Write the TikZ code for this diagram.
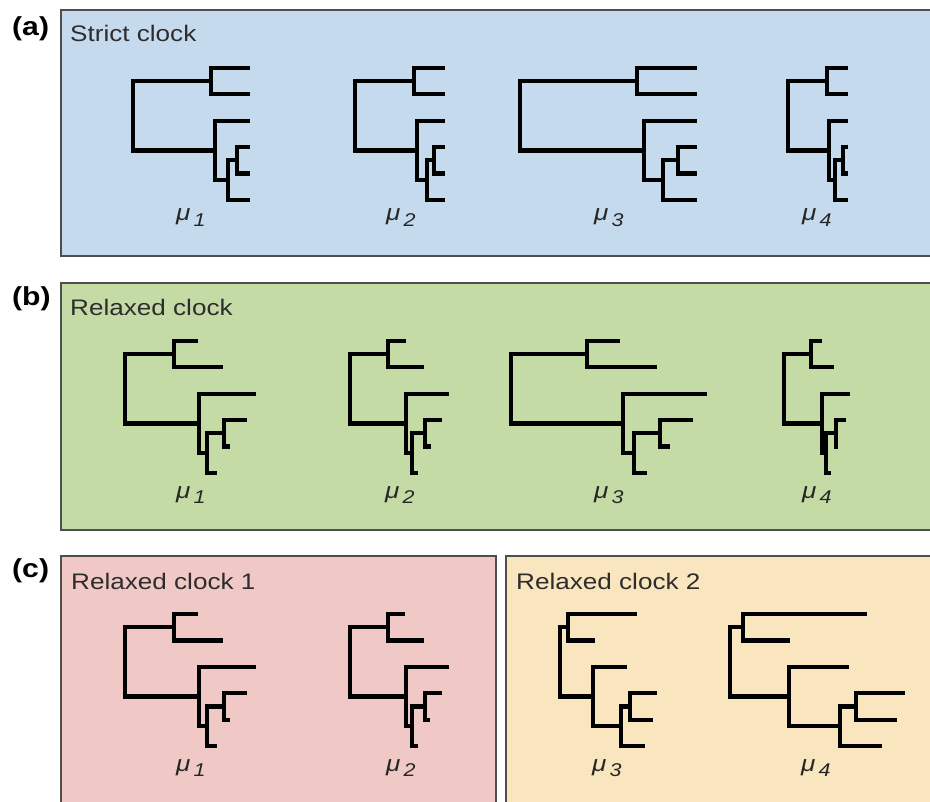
\documentclass[tikz,border=0pt]{standalone}
\usepackage{fontspec}
\setmainfont{Liberation Sans}[FakeStretch=1.16]
\definecolor{panelA}{RGB}{198,218,238}
\definecolor{panelB}{RGB}{197,219,166}
\definecolor{panelC}{RGB}{240,201,199}
\definecolor{panelD}{RGB}{250,230,190}
\definecolor{frame}{RGB}{78,78,78}
\definecolor{titletext}{RGB}{45,45,45}

% keys describing one six-tip tree ((A,B),(C,((D,E),F)))
\pgfkeys{/phylo/.cd,
  y/.store in=\phY, root/.store in=\phRoot, ab/.store in=\phAB,
  cdef/.store in=\phCDEF, def/.store in=\phDEF, de/.store in=\phDE,
  tips/.code args={#1,#2,#3,#4,#5,#6}{%
    \def\tA{#1}\def\tB{#2}\def\tC{#3}\def\tD{#4}\def\tE{#5}\def\tF{#6}},
  strict/.code={\def\tA{#1}\def\tB{#1}\def\tC{#1}\def\tD{#1}\def\tE{#1}\def\tF{#1}}}

\newcommand\phylotree[1]{%
  \pgfkeys{/phylo/.cd,#1}%
  \pgfmathsetmacro\yA{\phY}%
  \pgfmathsetmacro\yB{\phY+26.4}%
  \pgfmathsetmacro\yC{\phY+52.8}%
  \pgfmathsetmacro\yD{\phY+79.2}%
  \pgfmathsetmacro\yE{\phY+105.6}%
  \pgfmathsetmacro\yF{\phY+132}%
  \pgfmathsetmacro\mAB{(\yA+\yB)/2}%
  \pgfmathsetmacro\mDE{(\yD+\yE)/2}%
  \pgfmathsetmacro\mDEF{(\mDE+\yF)/2}%
  \pgfmathsetmacro\mCDEF{(\yC+\mDEF)/2}%
  \draw[branch] (\tA,\yA) -| (\phAB,\yB) -- (\tB,\yB);
  \draw[branch] (\tD,\yD) -| (\phDE,\yE) -- (\tE,\yE);
  \draw[branch] (\phDE,\mDE) -| (\phDEF,\yF) -- (\tF,\yF);
  \draw[branch] (\tC,\yC) -| (\phCDEF,\mDEF) -- (\phDEF,\mDEF);
  \draw[branch] (\phAB,\mAB) -| (\phRoot,\mCDEF) -- (\phCDEF,\mCDEF);
}

\newcommand\murate[1]{μ\hspace{3pt}\raisebox{-5.5pt}{\fontsize{18.5}{19}\selectfont #1}}

\begin{document}
\begin{tikzpicture}[x=1pt,y=-1pt,
  branch/.style={line width=4.2pt, line join=miter, black},
  panel/.style={draw=frame, line width=2pt},
  paneltitle/.style={anchor=base west, inner sep=0pt, text=titletext,
    font=\fontsize{22.5}{24}\selectfont},
  panelletter/.style={anchor=base west, inner sep=0pt,
    font=\fontsize{26}{28}\selectfont\bfseries},
  rate/.style={anchor=base west, inner sep=0pt, text=black!85,
    font=\fontsize{22.5}{24}\selectfont\itshape}]

\useasboundingbox (0,0) rectangle (930,802);
\clip (0,0) rectangle (930,802);

% panel frames
\draw[panel, fill=panelA] (61,10) rectangle (945,256);
\draw[panel, fill=panelB] (61,283) rectangle (945,530);
\draw[panel, fill=panelC] (61,556) rectangle (496,820);
\draw[panel, fill=panelD] (506,556) rectangle (945,820);

% panel letters and titles
\node[panelletter] (labA) at (12,36) {(a)};
\node[panelletter] (labB) at (12,306) {(b)};
\node[panelletter] (labC) at (12,577) {(c)};
\node[paneltitle] (titleA) at (70,42) {Strict clock};
\node[paneltitle] (titleB) at (70,316) {Relaxed clock};
\node[paneltitle] (titleC) at (71,589) {Relaxed clock 1};
\node[paneltitle] (titleD) at (516,589) {Relaxed clock 2};

% (a) strict clock: all tips end together
\phylotree{y=68, root=133, ab=211, cdef=215, def=228, de=237, strict=250}
\phylotree{y=68, root=355, ab=414, cdef=417, def=427, de=434, strict=445}
\phylotree{y=68, root=520, ab=637, cdef=644, def=663, de=678, strict=697}
\phylotree{y=68, root=788, ab=827, cdef=829, def=835, de=843, strict=848}

% (b) relaxed clock
\phylotree{y=341, root=125, ab=174, cdef=199, def=207, de=224, tips={198,223,256,247,230,217}}
\phylotree{y=341, root=350, ab=388, cdef=406, def=412, de=425, tips={406,424,449,442,431,418}}
\phylotree{y=341, root=511, ab=587, cdef=623, def=634, de=660, tips={620,657,707,693,670,647}}
\phylotree{y=341, root=784, ab=811, cdef=822, def=826, de=836, tips={822,834,850,846,838,831}}

% (c) two relaxed clocks
\phylotree{y=614, root=125, ab=174, cdef=199, def=207, de=224, tips={198,223,256,247,230,217}}
\phylotree{y=614, root=350, ab=388, cdef=406, def=412, de=425, tips={405,424,449,442,430,418}}
\phylotree{y=614, root=560, ab=568, cdef=593, def=621, de=630, tips={637,595,627,657,653,645}}
\phylotree{y=614, root=730, ab=743, cdef=789, def=840, de=856, tips={867,790,849,905,897,882}}

% rate labels
\node[rate] (muA1) at (176,221) {\murate{1}};
\node[rate] (muA2) at (386,221) {\murate{2}};
\node[rate] (muA3) at (594,221) {\murate{3}};
\node[rate] (muA4) at (802,221) {\murate{4}};
\node[rate] (muB1) at (176,498) {\murate{1}};
\node[rate] (muB2) at (385,498) {\murate{2}};
\node[rate] (muB3) at (594,498) {\murate{3}};
\node[rate] (muB4) at (802,498) {\murate{4}};
\node[rate] (muC1) at (176,771) {\murate{1}};
\node[rate] (muC2) at (386,771) {\murate{2}};
\node[rate] (muC3) at (592,771) {\murate{3}};
\node[rate] (muC4) at (801,771) {\murate{4}};
\end{tikzpicture}
\end{document}
